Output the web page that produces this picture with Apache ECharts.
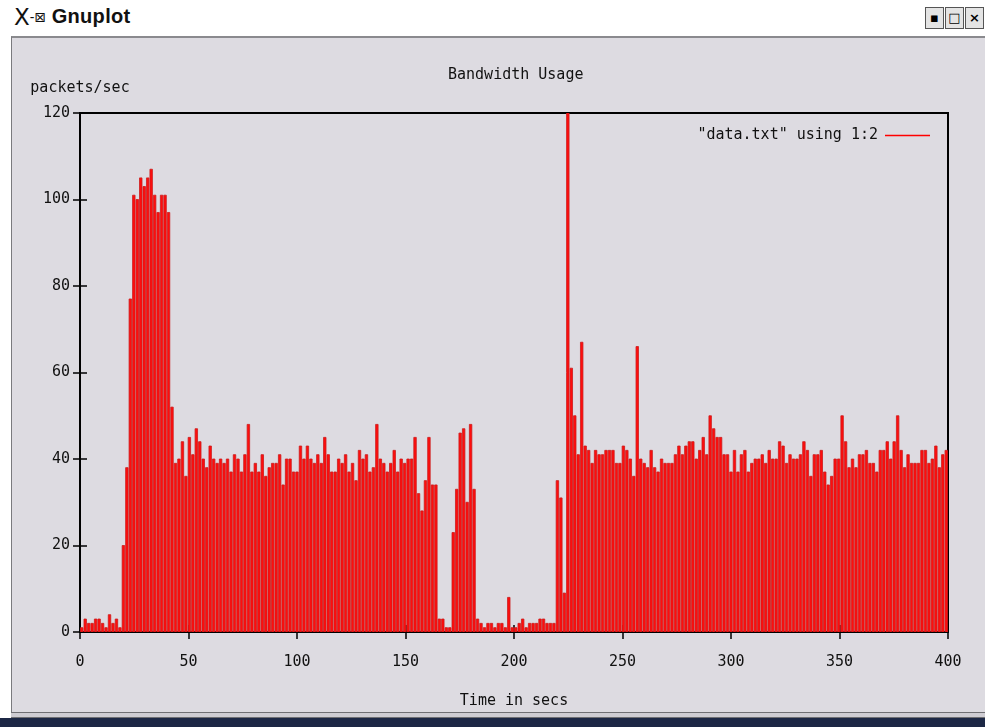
<!DOCTYPE html>
<html>
<head>
<meta charset="utf-8">
<script src="https://cdn.jsdelivr.net/npm/echarts@6/dist/echarts.min.js"></script>
<style>
  html,body{margin:0;padding:0;width:985px;height:727px;overflow:hidden;background:#ffffff;}
  #titlebar{position:absolute;left:0;top:0;width:985px;height:36px;background:#ffffff;}
  #ttext{position:absolute;left:14px;top:4px;font-family:"Liberation Sans","DejaVu Sans",sans-serif;font-size:20px;color:#111;white-space:nowrap;}
  #ttext .x{font-family:"DejaVu Sans",sans-serif;font-weight:normal;font-size:23px;vertical-align:-2px;}
  #ttext .ic{font-size:14px;vertical-align:1px;}
  #ttext .g{font-weight:bold;letter-spacing:0.3px;}
  .btn{position:absolute;top:7px;width:17px;height:20px;border:1px solid #555;background:#e4e4e4;font-family:"DejaVu Sans",sans-serif;font-size:13px;line-height:20px;text-align:center;color:#000;font-weight:bold;}
  #panel{position:absolute;left:11px;top:36px;width:974px;height:676px;background:#dddbe1;border-top:2px solid #8a8a8e;border-left:1px solid #7a7a7e;box-sizing:border-box;}
  #scroll{position:absolute;left:11px;top:712px;width:974px;height:6px;background:#cfcdd3;border-top:1px solid #6f6f73;border-bottom:1px solid #6f6f73;box-sizing:border-box;}
  #task{position:absolute;left:0;top:718px;width:985px;height:9px;background:#1c2745;}
  #chart{position:absolute;left:0;top:0;width:985px;height:727px;}
</style>
</head>
<body>
<div id="titlebar">
  <div id="ttext"><span class="x">X</span><span class="ic">-&#8864;</span> <span class="g">Gnuplot</span></div>
  <div class="btn" style="left:925px;">&#9642;</div>
  <div class="btn" style="left:945px;">&#9633;</div>
  <div class="btn" style="left:965px;">&#215;</div>
</div>
<div id="panel"></div>
<div id="scroll"></div>
<div id="task"></div>
<div id="chart"></div>
<script>
// ---- data ----
const chartTitle = 'Bandwidth Usage';
const yAxisName = 'packets/sec';
const xAxisName = 'Time in secs';
const seriesName = '"data.txt" using 1:2';
const xTicks = [0, 50, 100, 150, 200, 250, 300, 350, 400];
const yTicks = [0, 20, 40, 60, 80, 100, 120];

// sample times (secs)
const times = [
  0.8,2.4,4,5.6,7.2,8.8,10.4,12,13.6,15.2,
  16.8,18.4,20,21.6,23.2,24.8,26.4,28,29.6,31.2,
  32.8,34.4,36,37.6,39.2,40.8,42.4,44,45.6,47.2,
  48.8,50.4,52,53.6,55.2,56.8,58.4,60,61.6,63.2,
  64.8,66.4,68,69.6,71.2,72.8,74.4,76,77.6,79.2,
  80.8,82.4,84,85.6,87.2,88.8,90.4,92,93.6,95.2,
  96.8,98.4,100,101.6,103.2,104.8,106.4,108,109.6,111.2,
  112.8,114.4,116,117.6,119.2,120.8,122.4,124,125.6,127.2,
  128.8,130.4,132,133.6,135.2,136.8,138.4,140,141.6,143.2,
  144.8,146.4,148,149.6,151.2,152.8,154.4,156,157.6,159.2,
  160.8,162.4,164,165.6,167.2,168.8,170.4,172,173.6,175.2,
  176.8,178.4,180,181.6,183.2,184.8,186.4,188,189.6,191.2,
  192.8,194.4,196,197.6,199.2,200.8,202.4,204,205.6,207.2,
  208.8,210.4,212,213.6,215.2,216.8,218.4,220,221.6,223.2,
  224.8,226.4,228,229.6,231.2,232.8,234.4,236,237.6,239.2,
  240.8,242.4,244,245.6,247.2,248.8,250.4,252,253.6,255.2,
  256.8,258.4,260,261.6,263.2,264.8,266.4,268,269.6,271.2,
  272.8,274.4,276,277.6,279.2,280.8,282.4,284,285.6,287.2,
  288.8,290.4,292,293.6,295.2,296.8,298.4,300,301.6,303.2,
  304.8,306.4,308,309.6,311.2,312.8,314.4,316,317.6,319.2,
  320.8,322.4,324,325.6,327.2,328.8,330.4,332,333.6,335.2,
  336.8,338.4,340,341.6,343.2,344.8,346.4,348,349.6,351.2,
  352.8,354.4,356,357.6,359.2,360.8,362.4,364,365.6,367.2,
  368.8,370.4,372,373.6,375.2,376.8,378.4,380,381.6,383.2,
  384.8,386.4,388,389.6,391.2,392.8,394.4,396,397.6,399.2,
  400.8
];

// packets per second
const packets = [
  1,3,2,2,3,3,2,1,4,2,
  3,1,20,38,77,101,100,105,103,105,
  107,101,97,101,101,97,52,39,40,44,
  36,45,41,47,44,40,38,43,40,39,
  40,39,40,37,41,40,37,41,48,37,
  39,37,41,36,38,39,39,41,34,40,
  40,37,37,43,40,43,40,39,41,39,
  45,41,37,37,40,39,41,37,39,35,
  42,40,41,37,38,48,40,39,37,39,
  42,37,40,39,40,40,45,32,28,35,
  45,34,34,3,3,1,1,23,33,46,
  47,30,48,33,3,2,1,2,2,1,
  2,2,1,8,1,1,2,3,1,2,
  2,2,3,3,2,2,2,35,31,9,
  120,61,50,41,67,43,42,39,42,41,
  41,42,42,42,39,39,43,42,40,36,
  66,40,39,38,42,38,37,40,39,39,
  39,41,43,41,43,44,44,40,42,45,
  41,50,47,45,45,41,41,37,42,37,
  41,42,37,39,40,40,41,39,42,40,
  40,44,43,39,41,40,40,41,44,42,
  36,41,41,42,37,34,36,40,40,50,
  44,38,40,38,41,41,42,39,39,37,
  42,42,44,40,44,50,42,38,41,39,
  39,39,42,42,39,40,43,38,41,42,
  48
];

// ---- chart ----
const mono = '"DejaVu Sans Mono","Liberation Mono",monospace';
const chart = echarts.init(document.getElementById('chart'), null, {renderer: 'canvas'});
const seriesData = times.map((t, i) => [t, packets[i]]);

function boxEdges(i) {
  const t = times[i];
  const prev = i > 0 ? times[i - 1] : t - (times[1] - times[0]);
  const next = i < times.length - 1 ? times[i + 1] : t + (t - times[i - 1]);
  return [(prev + t) / 2, (t + next) / 2];
}

const tickStyle = {show: true, inside: true, length: 7, lineStyle: {color: '#000', width: 1.5}};

chart.setOption({
  backgroundColor: 'transparent',
  animation: false,
  title: {
    text: chartTitle,
    left: 443, top: 63,
    textStyle: {fontFamily: mono, fontSize: 15, fontWeight: 'normal', color: '#111'}
  },
  legend: {
    data: [seriesName],
    right: 50, top: 123,
    align: 'right',
    icon: 'rect',
    itemWidth: 45, itemHeight: 1.5,
    itemGap: 8,
    textStyle: {fontFamily: mono, fontSize: 15, color: '#111', padding: [0, 2, 0, 0]}
  },
  grid: {
    left: 80, top: 113, right: 37, bottom: 95,
    show: true, borderColor: '#000', borderWidth: 2, backgroundColor: 'transparent'
  },
  xAxis: [{
    type: 'value', min: xTicks[0], max: xTicks[xTicks.length - 1], interval: 50,
    name: xAxisName, nameLocation: 'middle', nameGap: 62,
    nameTextStyle: {fontFamily: mono, fontSize: 15, color: '#111'},
    axisLine: {show: false},
    axisTick: tickStyle,
    splitLine: {show: false},
    axisLabel: {margin: 23, fontFamily: mono, fontSize: 15, color: '#111'}
  }, {
    type: 'value', position: 'top', min: xTicks[0], max: xTicks[xTicks.length - 1], interval: 50,
    axisLine: {show: false}, axisTick: tickStyle, splitLine: {show: false}, axisLabel: {show: false}
  }],
  yAxis: [{
    type: 'value', min: yTicks[0], max: yTicks[yTicks.length - 1], interval: 20,
    name: yAxisName, nameLocation: 'end', nameGap: 17,
    nameTextStyle: {fontFamily: mono, fontSize: 15, color: '#111', align: 'center'},
    axisLine: {show: false},
    axisTick: tickStyle,
    splitLine: {show: false},
    axisLabel: {margin: 10, fontFamily: mono, fontSize: 15, color: '#111'}
  }, {
    type: 'value', position: 'right', min: yTicks[0], max: yTicks[yTicks.length - 1], interval: 20,
    axisLine: {show: false}, axisTick: tickStyle, splitLine: {show: false}, axisLabel: {show: false}
  }],
  series: [{
    name: seriesName,
    type: 'custom',
    clip: true,
    itemStyle: {color: '#ff0000'},
    data: seriesData,
    encode: {x: 0, y: 1},
    renderItem: function (params, api) {
      const i = params.dataIndex;
      const v = api.value(1);
      const e = boxEdges(i);
      const p0 = api.coord([e[0], v]);
      const p1 = api.coord([e[1], 0]);
      const x0 = p0[0] + 0.5, x1 = p1[0] - 0.5;
      return {
        type: 'rect',
        shape: {x: x0, y: p0[1], width: Math.max(0.5, x1 - x0), height: p1[1] - p0[1]},
        style: {fill: '#ff0d0d', stroke: '#cc1c1c', lineWidth: 0.8}
      };
    }
  }]
});
</script>
</body>
</html>
